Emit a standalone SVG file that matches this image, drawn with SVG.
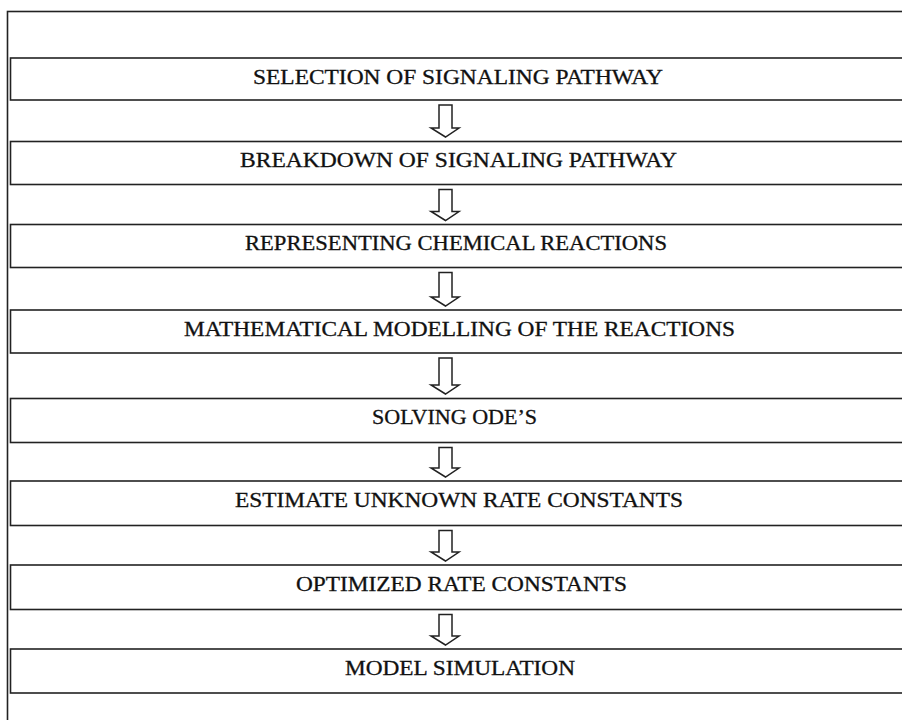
<svg xmlns="http://www.w3.org/2000/svg" width="902" height="720" viewBox="0 0 902 720">
<style>
.frame{fill:none;stroke:#222;stroke-width:1.6}
.box{fill:#fff;stroke:#222;stroke-width:1.6}
.lbl{font-family:"Liberation Serif","Times New Roman",serif;font-size:20px;fill:#111;stroke:#111;stroke-width:0.3}
.arr{fill:#fff;stroke:#222;stroke-width:1.5;stroke-linejoin:miter}
</style>
<rect width="902" height="720" fill="#fff"/>
<rect class="frame" x="7.5" y="11.5" width="910" height="720"/>
<g id="n1"><rect class="box" x="10.5" y="58" width="900" height="42"/><text class="lbl" x="253" y="83.5" textLength="410" lengthAdjust="spacingAndGlyphs">SELECTION OF SIGNALING PATHWAY</text></g>
<g id="n2"><rect class="box" x="10.5" y="141.5" width="900" height="43"/><text class="lbl" x="240" y="167" textLength="437" lengthAdjust="spacingAndGlyphs">BREAKDOWN OF SIGNALING PATHWAY</text></g>
<g id="n3"><rect class="box" x="10.5" y="224.5" width="900" height="43"/><text class="lbl" x="245" y="250" textLength="422" lengthAdjust="spacingAndGlyphs">REPRESENTING CHEMICAL REACTIONS</text></g>
<g id="n4"><rect class="box" x="10.5" y="310" width="900" height="43"/><text class="lbl" x="184" y="335.5" textLength="551" lengthAdjust="spacingAndGlyphs">MATHEMATICAL MODELLING OF THE REACTIONS</text></g>
<g id="n5"><rect class="box" x="10.5" y="398.5" width="900" height="44"/><text class="lbl" x="372" y="424" textLength="165" lengthAdjust="spacingAndGlyphs">SOLVING ODE’S</text></g>
<g id="n6"><rect class="box" x="10.5" y="481" width="900" height="44.5"/><text class="lbl" x="235" y="506.5" textLength="448" lengthAdjust="spacingAndGlyphs">ESTIMATE UNKNOWN RATE CONSTANTS</text></g>
<g id="n7"><rect class="box" x="10.5" y="565" width="900" height="44.5"/><text class="lbl" x="296" y="590.5" textLength="331" lengthAdjust="spacingAndGlyphs">OPTIMIZED RATE CONSTANTS</text></g>
<g id="n8"><rect class="box" x="10.5" y="649" width="900" height="44"/><text class="lbl" x="345" y="675" textLength="230" lengthAdjust="spacingAndGlyphs">MODEL SIMULATION</text></g>
<g id="connectors">
<path class="arr" d="M439,105 H452 V128 H459 L445.5,137 L431,128 H439 Z"/>
<path class="arr" d="M439,189.5 H452 V211.5 H459 L445.5,220.5 L431,211.5 H439 Z"/>
<path class="arr" d="M439,272.5 H452 V297 H459 L445.5,306 L431,297 H439 Z"/>
<path class="arr" d="M439,358 H452 V385 H459 L445.5,394 L431,385 H439 Z"/>
<path class="arr" d="M439,447.5 H452 V468 H459 L445.5,477 L431,468 H439 Z"/>
<path class="arr" d="M439,530.5 H452 V552 H459 L445.5,561 L431,552 H439 Z"/>
<path class="arr" d="M439,614.5 H452 V636 H459 L445.5,645 L431,636 H439 Z"/>
</g>
</svg>
